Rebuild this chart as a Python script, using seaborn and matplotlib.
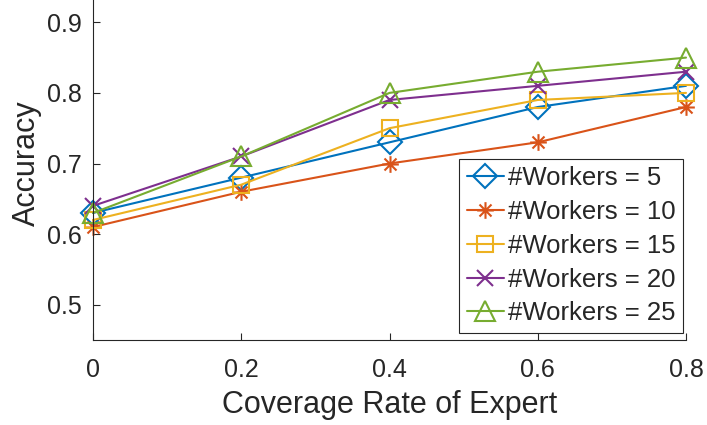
import numpy as np
import pandas as pd
import matplotlib
matplotlib.use("Agg")
import matplotlib.pyplot as plt
from matplotlib.path import Path
import seaborn as sns

coverage = [0.0, 0.2, 0.4, 0.6, 0.8]
workers_5 = [0.63, 0.68, 0.73, 0.78, 0.81]
workers_10 = [0.61, 0.66, 0.70, 0.73, 0.78]
workers_15 = [0.62, 0.67, 0.75, 0.79, 0.80]
workers_20 = [0.64, 0.71, 0.79, 0.81, 0.83]
workers_25 = [0.63, 0.71, 0.80, 0.83, 0.85]
labels = ["#Workers = 5", "#Workers = 10", "#Workers = 15",
          "#Workers = 20", "#Workers = 25"]
x_ticks = [0, 0.2, 0.4, 0.6, 0.8]
x_tick_labels = ["0", "0.2", "0.4", "0.6", "0.8"]
y_ticks = [0.5, 0.6, 0.7, 0.8, 0.9]

sns.set_style("ticks")
plt.rcParams["font.family"] = ["Liberation Sans", "DejaVu Sans"]

# asterisk made of four crossing strokes
asterisk = Path(
    [(-1, 0), (1, 0), (0, -1), (0, 1),
     (-0.72, -0.72), (0.72, 0.72), (-0.72, 0.72), (0.72, -0.72)],
    [Path.MOVETO, Path.LINETO] * 4,
)

colors = ["#0072BD", "#D95319", "#EDB120", "#7E2F8E", "#77AC30"]
markers = ["D", asterisk, "s", "x", "^"]
sizes = [12, 12, 11, 11, 15]

series = [workers_5, workers_10, workers_15, workers_20, workers_25]
frames = []
for lab, vals in zip(labels, series):
    frames.append(pd.DataFrame({"coverage": coverage, "accuracy": vals, "group": lab}))
df = pd.concat(frames, ignore_index=True)

fig = plt.figure(figsize=(7.07, 4.25), dpi=100)
ax = fig.add_axes([93 / 707, 85 / 425, 593 / 707, 353 / 425])

for lab, c, m, ms in zip(labels, colors, markers, sizes):
    sub = df[df["group"] == lab]
    sns.lineplot(data=sub, x="coverage", y="accuracy", ax=ax, color=c,
                 marker=m, markersize=ms, markerfacecolor="none",
                 markeredgecolor=c, markeredgewidth=1.5, linewidth=1.5,
                 label=lab, legend=False, clip_on=False)

ax.set_xlim(0, 0.8)
ax.set_ylim(0.45, 0.95)
ax.set_xticks(x_ticks)
ax.set_xticklabels(x_tick_labels)
ax.set_yticks(y_ticks)
ax.tick_params(direction="in", length=5, width=0.8, labelsize=18,
               colors="#262626")
ax.tick_params(axis="x", pad=13)
ax.tick_params(axis="y", pad=8)
for side in ["top", "right"]:
    ax.spines[side].set_visible(False)
for side in ["left", "bottom"]:
    ax.spines[side].set_color("#262626")
    ax.spines[side].set_linewidth(0.8)

ax.set_xlabel("Coverage Rate of Expert", fontsize=22, color="#262626", labelpad=6)
ax.set_ylabel("Accuracy", fontsize=22, color="#262626", labelpad=4)

leg = ax.legend(handles=ax.lines, labels=labels, loc="lower right",
                bbox_to_anchor=(683 / 707, 92 / 425),
                bbox_transform=fig.transFigure, fontsize=18.5,
                frameon=True, fancybox=False, framealpha=1,
                edgecolor="#262626", handlelength=1.45, handletextpad=0.15,
                borderpad=0.3, labelspacing=0.38, borderaxespad=0)
leg.get_frame().set_linewidth(0.8)

fig.savefig("out.png", dpi=100)
